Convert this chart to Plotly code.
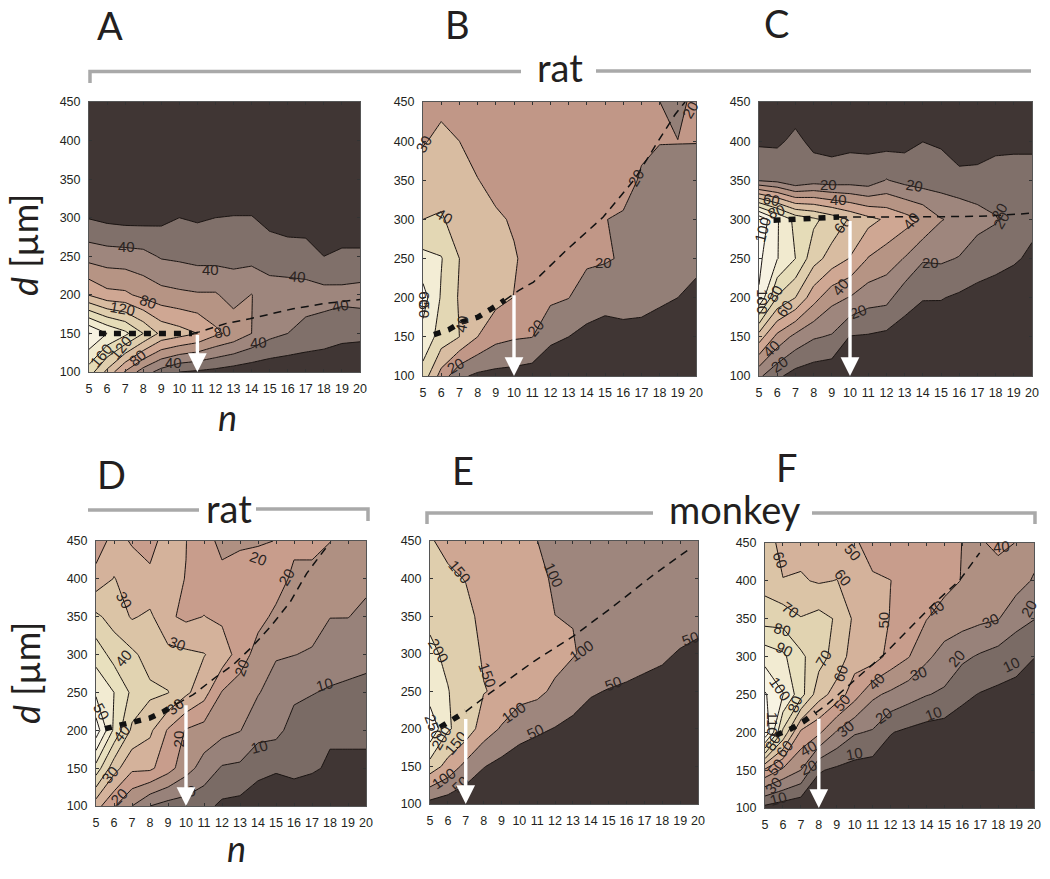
import plotly.graph_objects as go

FONT = "Liberation Sans"
BIG_FONT = "Lato"
W, H = 1050, 879

n_values = list(range(5, 21))
d_values = [100, 150, 200, 250, 300, 350, 400, 450]

# z rows follow d_values, columns follow n_values
z_a = [
    [150, 115, 78, 50, 32, 20, 17, 14, 10, 7, 6, 5, 5, 4, 3, 2],
    [201, 180, 165, 140, 115, 108, 100, 84, 74, 60, 46, 40, 34, 31, 26, 25],
    [99, 86, 84, 74, 67, 64, 62, 62, 52, 60.5, 49, 50, 48, 47, 46, 48],
    [52, 49, 48, 46, 38, 36, 33, 33, 34, 33, 31, 28, 28, 20, 23, 23],
    [19, 15, 13, 13, 15, 20, 18, 20, 21, 21, 14, 12, 11, 8, 9, 9],
    [2, 2, 2, 2, 2, 2, 2, 2, 2, 2, 2, 2, 2, 1, 1, 1],
    [1, 1, 1, 1, 1, 1, 1, 1, 1, 1, 1, 1, 1, 1, 1, 1],
    [0, 0, 0, 0, 0, 0, 0, 0, 0, 0, 0, 0, 0, 0, 0, 0],
]
z_b = [
    [46, 26, 12, 8, 7, 6.5, 5, 3, 2, 2, 1.5, 1.5, 1.5, 1.5, 1, 1],
    [56.5, 46, 40, 30, 23, 21, 20.2, 12, 10, 7.5, 6, 6, 6.5, 5.5, 5, 3.5],
    [64, 49, 39, 36, 33, 29.8, 26, 22, 20.2, 15, 13.4, 15, 13.5, 11.5, 10, 8],
    [53, 50.6, 40, 36, 34, 30.8, 27, 26, 25, 21.8, 21, 19, 16, 14, 13, 12],
    [40, 41, 36, 34, 31.4, 29, 27, 26, 26, 25, 20.1, 19.4, 18, 16, 15.5, 15],
    [35, 36, 33, 30.3, 27, 26, 26, 25, 25, 25, 24, 22, 19.4, 18, 17.5, 17],
    [29.3, 32, 30, 26, 25, 25, 24, 24, 24, 24, 24, 23, 21, 20.2, 20.2, 20.2],
    [26, 28, 26, 24, 23, 23, 23, 23, 23, 23, 23, 23, 22, 20.1, 15, 25],
]
z_c = [
    [22, 12, 6, 4, 3, 2, 2, 2, 1.5, 1.5, 1.5, 1.5, 1.5, 1, 1, 1],
    [55, 37, 27, 21, 19, 9.5, 9, 7.5, 5.5, 4, 3.5, 3, 3, 2.5, 2, 2],
    [99, 69, 60, 44, 33, 29.5, 24, 23, 14, 10.5, 10.5, 8.5, 7.5, 6.5, 5, 4],
    [102, 90.5, 80, 64, 56, 49.5, 39.5, 35, 29.5, 21, 21.5, 19.5, 14, 12.5, 11, 8.6],
    [108, 91, 77, 72, 66, 59, 53, 48.5, 44, 39, 30.5, 27.5, 24, 21, 14, 12],
    [19, 17, 11, 15, 14, 15, 14, 20.5, 17, 15, 15, 13.6, 13.5, 12, 12, 12],
    [8.5, 8.5, 12, 7.9, 7.3, 7.9, 8, 6.3, 7, 9.9, 8.75, 3.6, 4.75, 8.8, 9, 9],
    [3, 3, 5.75, 3, 3, 3, 3, 3, 3, 3, 3, 2, 2, 3, 3, 3],
]
z_d = [
    [27, 20.5, 15, 10, 8, 7.5, 6.5, 4, 3.5, 3, 2.5, 2.5, 2, 1.5, 1, 1],
    [43, 32, 26, 26, 22, 17, 13, 9.5, 9, 6, 5.4, 6, 5.5, 4.5, 4.5, 4.5],
    [58, 44, 34, 31, 24.5, 19.6, 18, 16.5, 15.2, 12, 11.5, 8, 7.5, 5.5, 5.5, 5.5],
    [49, 45, 39, 36, 35.2, 31, 27, 19.7, 17.5, 15.3, 13, 11, 10.2, 9.5, 9, 8.5],
    [43, 38, 36, 33, 31.5, 31, 30.2, 28, 22.5, 18, 15.4, 15.1, 14.5, 12.5, 12, 11.5],
    [36, 33, 29.5, 31, 25.8, 24, 25.1, 24, 24, 21.5, 19, 17, 17, 15.1, 15.1, 14],
    [27, 30.2, 28, 26, 26, 24.9, 23, 21, 23, 23, 22, 19, 19, 17.5, 16.5, 16],
    [22, 27, 24.5, 23.5, 27, 25.1, 21.5, 19, 19, 19.5, 20.1, 21, 21, 20.1, 18, 18],
]
z_e = [
    [35, 23, 13, 8, 5, 4, 3, 3, 2, 2, 2, 2, 1, 1, 1, 1],
    [178, 133, 85, 52, 35, 22, 16, 13, 10, 8, 6, 5, 4, 3, 3, 2],
    [290, 205, 180, 125, 95, 70, 58, 48, 40, 30, 24, 20, 16, 12, 10, 8],
    [223, 202, 175, 152, 142, 118, 112, 90, 68, 54, 48, 44, 40, 36, 28, 24],
    [210, 190, 170, 145, 135, 128, 125, 118, 104, 85, 76, 68, 61, 56, 47, 43],
    [190, 178, 165, 135, 128, 124, 120, 100.2, 98, 92, 88, 85, 80, 75, 68, 60],
    [168, 160, 148, 125, 122, 118, 112, 93, 92, 92, 90, 88, 86, 85, 82, 80],
    [155, 135, 125, 115, 112, 110, 100.2, 90, 90, 90, 90, 88, 88, 88, 85, 85],
]
z_f = [
    [7, 4, 2, 1, 1, 1, 1, 1, 1, 1, 1, 1, 1, 1, 1, 1],
    [48, 38, 30, 11, 8, 6, 5, 4, 3, 2.5, 2, 2, 2, 2, 1.5, 1.5],
    [120, 78, 48, 42, 29, 21, 19, 10.5, 8, 6, 5, 5, 4, 3.5, 3, 3],
    [111, 100.5, 84, 64, 56, 44, 32, 28, 24, 20.5, 18.5, 12, 9.5, 8, 7, 6],
    [96, 92, 82, 74, 66, 55, 55, 46.5, 40.5, 32, 26, 22, 18.8, 16, 13.5, 10.2],
    [76, 76, 70.5, 73.4, 69, 58, 56, 49.5, 46, 40.3, 36, 34, 32, 30.5, 23.5, 20.3],
    [66, 60.2, 61, 59, 60.3, 55, 51, 50.1, 47, 44, 43, 39.6, 38, 36, 34, 29],
    [63, 58, 57, 55, 52, 51, 47, 46, 46, 44, 43, 39.9, 39, 42, 39.8, 34],
]

# contour levels: start, end, step
levels_a = (20, 200, 20)
levels_b = (10, 60, 10)
levels_c = (10, 100, 10)
levels_d = (5, 55, 5)
levels_e = (50, 250, 50)
levels_f = (10, 110, 10)

# dashed d(n) curves, heavy part then thin part
heavy_n_a = [5.55, 10.7]
heavy_d_a = [150, 150]
thin_n_a = [10.7, 11.1, 12.6, 13.9, 16.3, 18.1, 20]
thin_d_a = [150, 152, 163, 169, 182, 189, 194]
heavy_n_b = [5.6, 6.4, 7.14, 8, 8.7, 9.5]
heavy_d_b = [153, 159, 169, 175, 185, 197]
thin_n_b = [9.5, 10.25, 11.07, 12.8, 14.9, 16.65, 17.84, 18.85, 19.4]
thin_d_b = [197, 209, 220, 259, 303, 352, 397, 434, 450]
heavy_n_c = [5.8, 9.4]
heavy_d_c = [299, 303]
thin_n_c = [9.4, 13, 15, 17, 18, 20]
thin_d_c = [303, 303, 303.5, 304, 305, 308]
heavy_n_d = [5.5, 6.3, 7.17, 7.97, 8.75, 9.5]
heavy_d_d = [202, 206, 210.5, 216, 224.6, 235]
thin_n_d = [9.5, 10.4, 11.7, 12.6, 13.66, 14.7, 15.8, 16.7, 17.9]
thin_d_d = [235, 247, 271, 286, 310, 337, 370, 407, 445]
heavy_n_e = [5.56, 6.3, 7.0]
heavy_d_e = [202, 213, 223]
thin_n_e = [7.0, 8.35, 10.8, 13, 15.25, 17.5, 19.5]
thin_d_e = [223, 247.5, 289.6, 323, 362.8, 404.9, 439]
heavy_n_f = [5.6, 6.4, 7.13, 7.84]
heavy_d_f = [196, 204, 214, 226]
thin_n_f = [7.84, 8.43, 10.1, 11.6, 13.26, 14.56, 15.86, 16.97]
thin_d_f = [226, 236, 271, 302, 342, 373, 401, 437]

# white arrows: n, d at the tail
arrow_a = (11, 150)
arrow_b = (10, 205)
arrow_c = (10, 300)
arrow_d = (10, 235)
arrow_e = (7, 215)
arrow_f = (8, 220)

# contour labels: n, d, text, angle
labels_a = [
    (7.07, 263, "40", 0), (11.73, 232.7, "40", 0), (16.53, 224, "40", 5),
    (18.9, 186, "40", -10), (8.27, 192, "80", 20), (6.83, 182, "120", 10),
    (12.4, 152, "80", -10), (14.4, 138, "40", -5), (9.66, 112, "40", 0),
    (7.7, 119, "80", -40), (6.76, 132, "120", -50), (5.68, 121, "160", -50),
]
labels_b = [
    (6.2, 304, "40", 30), (14.9, 244.7, "20", 0), (16.7, 354, "20", -60),
    (11.2, 162, "20", -50), (6.8, 113.7, "20", -30), (19.7, 440, "20", -60),
    (7.14, 167, "40", -80), (5.05, 397, "30", -60), (5.1, 197, "60", 90),
    (5.1, 184, "50", 90),
]
labels_c = [
    (8.8, 345, "20", 0), (13.56, 343, "20", 10), (9.35, 325, "40", 0),
    (5.68, 325, "60", 10), (5.95, 310, "80", -20), (5.2, 287, "100", -75),
    (9.6, 293, "60", -50), (13.4, 298, "40", -50), (18.2, 310, "20", -60),
    (18.3, 298.6, "20", -60), (14.4, 245, "20", 0), (9.5, 214, "40", -50),
    (10.45, 182, "20", -20), (5.86, 205.7, "80", -60), (6.4, 186.5, "60", -55),
    (5.2, 195, "100", 90), (5.68, 135, "40", -45), (6.1, 115, "20", -35),
]
labels_d = [
    (14.03, 427, "20", 20), (15.6, 403, "20", -60), (6.6, 372, "30", 60),
    (9.5, 315, "30", 20), (6.5, 295, "40", -50), (13.1, 283, "20", -70),
    (17.7, 261, "10", -15), (5.3, 224.6, "50", 60), (9.4, 231, "30", -40),
    (6.4, 196, "40", -50), (9.6, 189, "20", -90), (14.1, 178, "10", -15),
    (5.8, 141, "30", -50), (6.3, 112, "20", -45), (10.1, 119, "10", -10),
]
labels_e = [
    (6.64, 409, "150", 50), (11.9, 405, "100", 65), (19.57, 320, "50", -20),
    (13.5, 304, "100", -35), (5.47, 304, "200", 60), (8.2, 272, "150", 70),
    (15.25, 260, "50", -20), (9.66, 222, "100", -35), (10.9, 196, "50", -25),
    (5.2, 203, "250", 70), (5.65, 188, "200", -60), (6.4, 181, "150", -50),
    (5.75, 134.6, "100", -35), (6.68, 126, "50", -45),
]
labels_f = [
    (5.84, 428, "60", 70), (9.9, 437, "50", 50), (18.2, 445.5, "40", -5),
    (9.36, 405, "60", 50), (6.4, 362, "70", 35), (11.6, 348, "50", -90),
    (14.5, 364, "40", -40), (17.6, 347.6, "30", -25), (19.7, 364, "20", -60),
    (6, 336, "80", 15), (6.1, 309.6, "90", 25), (8.25, 297.7, "70", -60),
    (9.2, 278, "60", -70), (5.84, 258, "100", 55), (15.67, 297.7, "20", -50),
    (11.2, 266.8, "40", -45), (13.54, 278, "30", -20), (18.74, 289, "10", -25),
    (9.27, 240, "50", -50), (6.67, 238, "80", -70), (11.6, 222.7, "20", -35),
    (14.4, 225, "10", -20), (9.5, 205, "30", -40), (7.4, 178.5, "40", -30),
    (6.1, 178.5, "60", -50), (10, 172, "10", -10), (7.4, 154, "20", -25),
    (5.56, 154, "50", -50), (5.46, 130, "30", -50), (5.74, 112, "10", -15),
    (5.4, 211, "110", 90), (5.4, 187, "80", -60),
]

colorscale = [
    [0.0, "rgb(64,54,52)"], [0.1, "rgb(128,112,106)"], [0.167, "rgb(147,127,119)"],
    [0.2, "rgb(158,134,125)"], [0.3, "rgb(182,148,132)"], [0.35, "rgb(198,153,137)"],
    [0.4, "rgb(207,167,147)"], [0.5, "rgb(216,188,161)"], [0.6, "rgb(223,206,173)"],
    [0.7, "rgb(229,220,184)"], [0.8, "rgb(241,234,207)"], [1.0, "rgb(252,250,242)"],
]

# axes box in page pixels: left, top, right, bottom
panels = [
    ("a", (89, 102, 360, 372), z_a, levels_a, heavy_n_a, heavy_d_a, thin_n_a, thin_d_a, arrow_a, labels_a),
    ("b", (423, 102, 696, 376), z_b, levels_b, heavy_n_b, heavy_d_b, thin_n_b, thin_d_b, arrow_b, labels_b),
    ("c", (759, 102, 1032, 376), z_c, levels_c, heavy_n_c, heavy_d_c, thin_n_c, thin_d_c, arrow_c, labels_c),
    ("d", (96, 541, 366, 806), z_d, levels_d, heavy_n_d, heavy_d_d, thin_n_d, thin_d_d, arrow_d, labels_d),
    ("e", (430, 541, 698, 804), z_e, levels_e, heavy_n_e, heavy_d_e, thin_n_e, thin_d_e, arrow_e, labels_e),
    ("f", (765, 543, 1034, 808), z_f, levels_f, heavy_n_f, heavy_d_f, thin_n_f, thin_d_f, arrow_f, labels_f),
]


def px(x):
    return x / W


def py(y):
    return 1 - y / H


def page_text(x, y, text, size, angle=0):
    return dict(xref="paper", yref="paper", x=px(x), y=py(y), text=text, showarrow=False,
                xanchor="center", yanchor="middle", textangle=angle,
                font=dict(family=BIG_FONT, size=size, color="#231f20"))


fig = go.Figure()
annotations = []
axis_layout = {}

for i, (name, box, z, lev, hn, hd, tn, td, arrow, labels) in enumerate(panels):
    suffix = "" if i == 0 else str(i + 1)
    xa, ya = "x" + suffix, "y" + suffix
    left, top, right, bottom = box

    fig.add_trace(go.Contour(
        x=n_values, y=d_values, z=z, xaxis=xa, yaxis=ya,
        colorscale=colorscale, showscale=False, hoverinfo="skip",
        contours=dict(start=lev[0], end=lev[1], size=lev[2], coloring="fill", showlabels=False),
        line=dict(color="#1a1412", width=1, smoothing=0),
    ))
    fig.add_trace(go.Scatter(
        x=tn, y=td, xaxis=xa, yaxis=ya, mode="lines", hoverinfo="skip", showlegend=False,
        line=dict(color="#111111", width=1.5, dash="8px,6px"),
    ))
    fig.add_trace(go.Scatter(
        x=hn, y=hd, xaxis=xa, yaxis=ya, mode="lines", hoverinfo="skip", showlegend=False,
        line=dict(color="#111111", width=5.5, dash="7px,8px"),
    ))

    tick_font = dict(family=FONT, size=12.5, color="#231f20")
    axis_layout["xaxis" + suffix] = dict(
        domain=[px(left), px(right)], range=[5, 20], anchor=ya, dtick=1, tick0=5,
        ticks="inside", ticklen=3, tickcolor="#333", showline=True, linecolor="#555",
        linewidth=1, mirror="ticks", showgrid=False, zeroline=False, tickfont=tick_font,
        ticklabelstandoff=5,
    )
    axis_layout["yaxis" + suffix] = dict(
        domain=[py(bottom), py(top)], range=[100, 450], anchor=xa, dtick=50, tick0=100,
        ticks="inside", ticklen=3, tickcolor="#333", showline=True, linecolor="#555",
        linewidth=1, mirror="ticks", showgrid=False, zeroline=False, tickfont=tick_font,
        ticklabelstandoff=5,
    )

    for ln, ld, text, angle in labels:
        annotations.append(dict(xref=xa, yref=ya, x=ln, y=ld, text=text, showarrow=False,
                                textangle=angle, font=dict(family=FONT, size=15, color="#2b2422")))
    annotations.append(dict(
        xref=xa, yref=ya, axref=xa, ayref=ya, x=arrow[0], y=100, ax=arrow[0], ay=arrow[1], text="",
        showarrow=True, arrowhead=2, arrowsize=1.1, arrowwidth=3.4, arrowcolor="white",
    ))

# panel letters and group names
for x, y, text in [(110, 25, "A"), (457, 24, "B"), (776, 23, "C"),
                   (111, 474, "D"), (463, 470, "E"), (787, 467, "F")]:
    annotations.append(page_text(x, y, text, 38))
for x, y, text in [(560, 67, "rat"), (229, 508, "rat"), (735, 509, "monkey")]:
    annotations.append(page_text(x, y, text, 38))
for x, y in [(24, 245), (26, 673)]:
    annotations.append(page_text(x, y, "<i>d</i> [µm]", 36, angle=-90))
for x, y in [(227, 417), (237, 848)]:
    annotations.append(page_text(x, y, "<i>n</i>", 36))

# gray brackets over the groups
gray = dict(color="#a9a9a9", width=3.5)
shapes = []
for pts in [
    [(90, 83), (90, 71.5), (521, 71.5)],
    [(596, 71), (1031, 71)],
    [(88, 510), (199, 510)],
    [(256, 509), (368, 509), (368, 521)],
    [(427, 524), (427, 513), (653, 513)],
    [(812, 513), (1035, 513), (1035, 524)],
]:
    path = "M" + " L".join(f"{px(x):.5f},{py(y):.5f}" for x, y in pts)
    shapes.append(dict(type="path", xref="paper", yref="paper", path=path, line=gray))

fig.update_layout(
    width=W, height=H, margin=dict(l=0, r=0, t=0, b=0, autoexpand=False),
    paper_bgcolor="white", plot_bgcolor="white",
    showlegend=False, annotations=annotations, shapes=shapes, **axis_layout,
)

fig.write_html("out.html", config={"displayModeBar": False},
               post_script="document.body.style.margin='0';document.body.style.overflow='hidden';")
